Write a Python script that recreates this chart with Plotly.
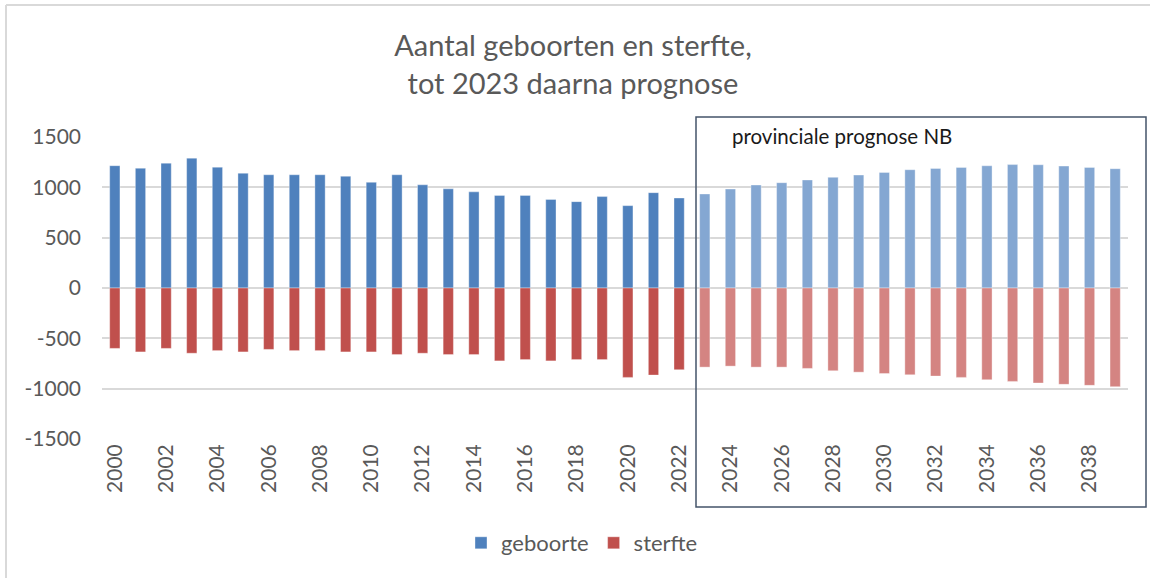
import plotly.graph_objects as go

# Data
jaren = [2000, 2001, 2002, 2003, 2004, 2005, 2006, 2007, 2008, 2009,
         2010, 2011, 2012, 2013, 2014, 2015, 2016, 2017, 2018, 2019,
         2020, 2021, 2022, 2023, 2024, 2025, 2026, 2027, 2028, 2029,
         2030, 2031, 2032, 2033, 2034, 2035, 2036, 2037, 2038, 2039]
geboorte = [1215, 1190, 1240, 1290, 1200, 1140, 1125, 1125, 1125, 1110,
            1050, 1125, 1025, 985, 955, 920, 920, 880, 858, 908,
            818, 947, 894, 934, 983, 1023, 1046, 1073, 1099, 1122,
            1148, 1175, 1188, 1198, 1214, 1226, 1224, 1211, 1198, 1185]
sterfte = [-600, -635, -600, -648, -622, -635, -610, -622, -622, -635,
           -635, -661, -648, -661, -661, -724, -711, -724, -711, -711,
           -888, -865, -812, -786, -776, -786, -786, -799, -822, -836,
           -849, -862, -875, -888, -911, -928, -944, -957, -967, -980]
prognose_vanaf = 2023
y_ticks = [-1500, -1000, -500, 0, 500, 1000, 1500]
y_labels = ['-1500', '-1000', '-500', '0', '500', '1000', '1500']

W, H = 1150, 578
L, R, T, B = 102, 22, 137, 139
FONT = 'Lato, "Open Sans", sans-serif'
GREY = '#595959'

BLUE, BLUE_LIGHT = '#4f81bd', '#84a7d2'
RED, RED_LIGHT = '#c0504d', '#d48482'

kleur_geb = [BLUE if j < prognose_vanaf else BLUE_LIGHT for j in jaren]
kleur_sterf = [RED if j < prognose_vanaf else RED_LIGHT for j in jaren]


def px_x(p):
    return (p - L) / (W - L - R)


def px_y(p):
    return (H - B - p) / (H - T - B)


fig = go.Figure()
fig.add_trace(go.Bar(
    x=jaren, y=geboorte, name='geboorte', width=0.4,
    marker=dict(color=kleur_geb, line=dict(color='rgba(255,255,255,0.6)', width=0.6)),
))
fig.add_trace(go.Bar(
    x=jaren, y=sterfte, name='sterfte', width=0.4,
    marker=dict(color=kleur_sterf, line=dict(color='rgba(255,255,255,0.6)', width=0.6)),
))

fig.update_layout(
    width=W, height=H,
    margin=dict(l=L, r=R, t=T, b=B),
    barmode='relative',
    plot_bgcolor='white', paper_bgcolor='white',
    font=dict(family=FONT, color=GREY, size=21),
    title=dict(
        text='Aantal geboorten en sterfte,<br>tot 2023 daarna prognose',
        x=573 / W, xanchor='center', y=1 - 56 / H, yanchor='middle',
        font=dict(family=FONT, size=29, color=GREY),
    ),
    showlegend=True,
    legend=dict(
        orientation='h', x=px_x(582), xanchor='center',
        y=px_y(543), yanchor='middle',
        font=dict(family=FONT, size=22, color=GREY),
        traceorder='normal',
    ),
    xaxis=dict(
        range=[1999.5, 2039.5], tick0=2000, dtick=2, tickangle=-90,
        showgrid=False, zeroline=False, showline=False, ticks='',
        tickfont=dict(size=21, color=GREY), fixedrange=True,
    ),
    yaxis=dict(
        range=[-1500, 1500], tickvals=y_ticks, ticktext=y_labels,
        showgrid=True, gridcolor='#d9d9d9', gridwidth=1.5,
        zeroline=True, zerolinecolor='#d9d9d9', zerolinewidth=1.5,
        showline=False, ticks='', ticklabelstandoff=20,
        tickfont=dict(size=21, color=GREY), fixedrange=True,
    ),
    shapes=[
        # prognose box
        dict(type='rect', xref='paper', yref='paper',
             x0=px_x(696), x1=px_x(1146), y0=px_y(507), y1=px_y(117),
             line=dict(color='#44546a', width=1.5), fillcolor='rgba(0,0,0,0)'),
        # outer chart border (left + top visible)
        dict(type='line', xref='paper', yref='paper',
             x0=px_x(6), x1=px_x(6), y0=px_y(5), y1=px_y(600),
             line=dict(color='#d9d9d9', width=2)),
        dict(type='line', xref='paper', yref='paper',
             x0=px_x(6), x1=px_x(1160), y0=px_y(5), y1=px_y(5),
             line=dict(color='#d9d9d9', width=2)),
    ],
    annotations=[
        dict(text='provinciale prognose NB', xref='paper', yref='paper',
             x=px_x(730), xanchor='left', y=px_y(136), yanchor='middle',
             showarrow=False, font=dict(family=FONT, size=20.5, color='#1a1a1a')),
    ],
)

# remove the default page margin so the figure sits at the window origin
fig.write_html('out.html', config={'displayModeBar': False},
               post_script="document.body.style.margin='0';")
